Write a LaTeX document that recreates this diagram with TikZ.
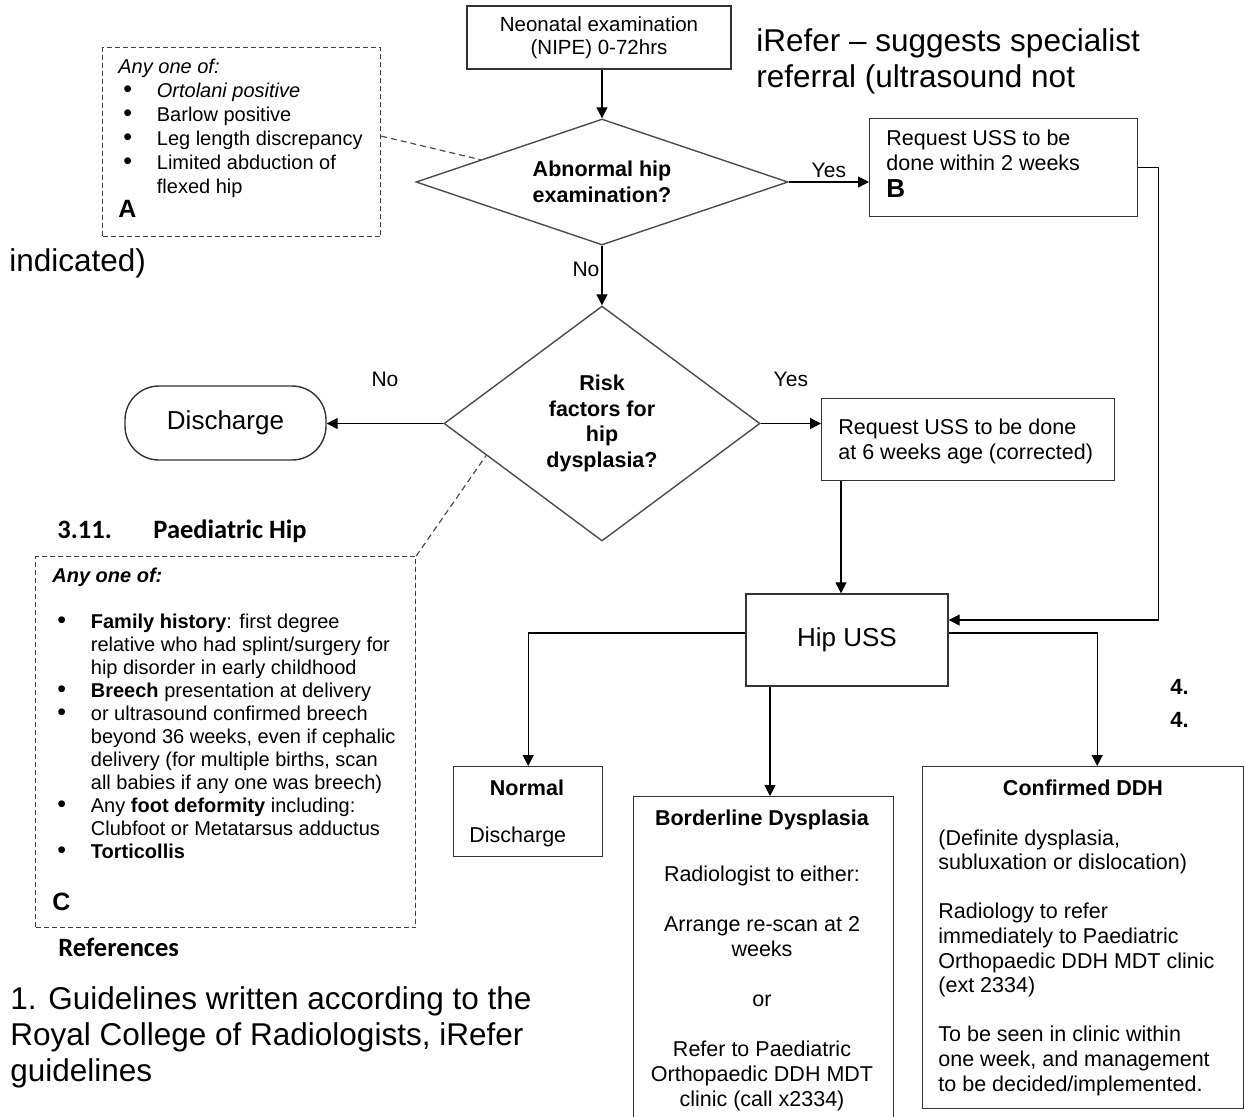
\documentclass[tikz,border=0pt]{standalone}
\usepackage{fontspec}
\setmainfont{Liberation Sans}
\newfontfamily\calibri{Carlito}
\usetikzlibrary{shapes.geometric,arrows.meta,calc}

\newcommand{\bul}{\hspace*{2.5pt}\makebox[16.75pt][l]{\fontsize{12.5}{12}\selectfont\textbullet}}
\newcommand{\ind}{\hspace*{19.25pt}}

\tikzset{
  arr/.style={-{Triangle[length=5.5pt,width=5.5pt]}, line width=0.6pt},
  box/.style={draw=black!80, line width=0.7pt, rectangle, inner sep=0pt, anchor=north west},
  dashbox/.style={draw=black!75, line width=0.6pt, dash pattern=on 2.5pt off 1.5pt, rectangle, inner sep=0pt, anchor=north west},
  hint/.style={draw=black!70, line width=0.6pt, dash pattern=on 3pt off 2pt},
  decision/.style={diamond, draw=black!70, line width=0.7pt, inner sep=0pt, align=center,
    font=\fontsize{10.75}{12.7}\selectfont\bfseries},
  txt/.style={inner sep=0pt, anchor=north west, align=left, font=\fontsize{10.75}{12.5}\selectfont},
  lbl/.style={inner sep=0pt, font=\fontsize{10.5}{12}\selectfont},
  big/.style={inner sep=0pt, anchor=north west, align=left, font=\fontsize{15.75}{18}\selectfont},
  head/.style={inner sep=0pt, anchor=north west, font=\calibri\fontsize{13.25}{15}\selectfont\bfseries},
}

\begin{document}
\begin{tikzpicture}[x=0.5pt,y=-0.5pt]
\useasboundingbox (0,0) rectangle (1245,1116);

% examination and first question
\node[box, anchor=center, minimum width=132pt, minimum height=31.5pt, align=center,
  font=\fontsize{10.25}{11.5}\selectfont] (neo) at (599,37.5) {Neonatal examination\\(NIPE) 0-72hrs};
\node[decision, aspect=2.95, minimum width=186pt, minimum height=63pt] (abn) at (602,182) {Abnormal hip\\examination?};

\node[dashbox, minimum width=139pt, minimum height=94.5pt] (exA) at (102,47) {};
\node[txt, font=\fontsize{10}{12}\selectfont] (exAtxt) at (118,59) {\textit{Any one of:}\\
  \bul\textit{Ortolani positive}\\
  \bul Barlow positive\\
  \bul Leg length discrepancy\\
  \bul Limited abduction of\\
  \ind flexed hip\\
  {\fontsize{12.5}{12}\selectfont\bfseries A}};

\node[box, minimum width=134pt, minimum height=49pt] (uss2) at (869,118) {};
\node[txt] (uss2txt) at (886,130) {Request USS to be\\done within 2 weeks\\[1pt]{\fontsize{13}{13}\selectfont\bfseries B}};

\node[big] (irefer) at (756,28) {iRefer \textendash{} suggests specialist\\referral (ultrasound not};
\node[big] (indic) at (9,248) {indicated)};

% risk factors
\node[decision, aspect=1.345, minimum width=158pt, minimum height=117.5pt] (risk) at (602,423.5) {Risk\\factors for\\hip\\dysplasia?};
\node[draw=black!80, line width=0.7pt, rounded corners=17pt, minimum width=100.5pt, minimum height=37pt,
  font=\fontsize{13}{15}\selectfont] (dis) at (225.5,423) {Discharge};
\node[box, minimum width=146.5pt, minimum height=41pt] (uss6) at (821,398) {};
\node[txt] (uss6txt) at (838,419) {Request USS to be done\\at 6 weeks age (corrected)};

\node[head] (sect) at (57,519) {\makebox[48pt][l]{3.11.}Paediatric Hip};
\node[dashbox, minimum width=190pt, minimum height=185.5pt] (exC) at (35,556) {};
\node[txt, font=\fontsize{10}{11.5}\selectfont] (exCtxt) at (52,568) {\textbf{\textit{Any one of:}}\\[11.5pt]
  \bul\textbf{Family history}: first degree\\
  \ind relative who had splint/surgery for\\
  \ind hip disorder in early childhood\\
  \bul\textbf{Breech} presentation at delivery\\
  \bul or ultrasound confirmed breech\\
  \ind beyond 36 weeks, even if cephalic\\
  \ind delivery (for multiple births, scan\\
  \ind all babies if any one was breech)\\
  \bul Any \textbf{foot deformity} including:\\
  \ind Clubfoot or Metatarsus adductus\\
  \bul\textbf{Torticollis}\\[14.5pt]
  {\fontsize{12.5}{12}\selectfont\bfseries C}};

% ultrasound and outcomes
\node[box, anchor=center, minimum width=101pt, minimum height=46pt, font=\fontsize{13}{15}\selectfont] (hip) at (847,640) {Hip USS};

\node[box, minimum width=74.5pt, minimum height=45pt] (normal) at (453,766) {};
\node[txt, anchor=north] (normhead) at (527,779) {\textbf{Normal}};
\node[txt] (normtxt) at (469,826) {Discharge};

\node[box, minimum width=130pt, minimum height=175pt] (border) at (633,796) {};
\node[txt, anchor=north, align=center] (bordtxt) at (762,809) {\textbf{Borderline Dysplasia}\\[15.5pt]
  Radiologist to either:\\[12.5pt]
  Arrange re-scan at 2\\weeks\\[12.5pt]
  or\\[12.5pt]
  Refer to Paediatric\\Orthopaedic DDH MDT\\clinic (call x2334)};

\node[box, minimum width=160.5pt, minimum height=171pt] (conf) at (922,766) {};
\node[txt, anchor=north] (confhead) at (1083,779) {\textbf{Confirmed DDH}};
\node[txt, font=\fontsize{10.75}{12.3}\selectfont] (conftxt) at (938,829) {(Definite dysplasia,\\subluxation or dislocation)\\[12.3pt]
  Radiology to refer\\immediately to Paediatric\\Orthopaedic DDH MDT clinic\\(ext 2334)\\[12.3pt]
  To be seen in clinic within\\one week, and management\\to be decided/implemented.};

\node[txt, font=\fontsize{11}{16.5}\selectfont\bfseries] (num) at (1170,679) {4.\\4.};

\node[head] (refs) at (58,938) {References};
\node[big] (guide) at (10,986) {1. Guidelines written according to the\\Royal College of Radiologists, iRefer\\guidelines};

% connectors
\draw[arr] (abn.north |- neo.south) -- (abn.north);
\draw[arr] (abn.east) -- (abn.east -| uss2.west) node[lbl, midway, above=2pt] {Yes};
\draw[arr] (abn.south) -- (risk.north) node[lbl, pos=0.4, left=1pt] {No};
\draw[hint] ([yshift=3pt]exA.east) -- ($(abn.west)!0.35!(abn.north)$);
\draw[arr] (risk.west) -- (risk.west -| dis.east) node[lbl, midway, above=18pt] {No};
\draw[arr] (risk.east) -- (risk.east -| uss6.west) node[lbl, midway, above=18pt] {Yes};
\draw[hint] (exC.north east) -- ($(risk.west)!0.27!(risk.south)$);
\draw[arr] (uss2.east) -- ++(20,0) |- ([yshift=10pt]hip.east);
\draw[arr] ([xshift=-3pt]hip.north |- uss6.south) -- ([xshift=-3pt]hip.north);
\draw[arr] ([yshift=3.5pt]hip.west) -| (normal.north);
\draw[arr] ([xshift=-38.5pt]hip.south) -- ([xshift=-38.5pt]hip.south |- border.north);
\draw[arr] ([yshift=3.5pt]hip.east) -| ([xshift=7pt]conf.north);
\end{tikzpicture}
\end{document}
